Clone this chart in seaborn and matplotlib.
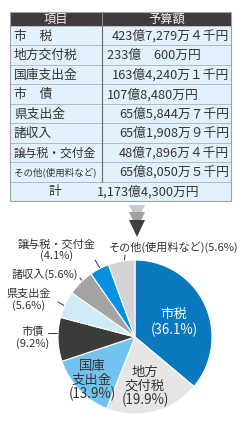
import matplotlib
matplotlib.use("Agg")
import matplotlib.pyplot as plt
from matplotlib.patches import Rectangle, Polygon
import seaborn as sns

# ---------------- data ----------------
header = ["項目", "予算額"]
items = ["市　税", "地方交付税", "国庫支出金", "市　債", "県支出金", "諸収入", "譲与税・交付金", "その他(使用料など)"]
amounts = ["423億7,279万４千円", "233億　600万円", "163億4,240万１千円", "107億8,480万円",
           "65億5,844万７千円", "65億1,908万９千円", "48億7,896万４千円", "65億8,050万５千円"]
total_label = "計"
total_amount = "1,173億4,300万円"

pie_labels = ["市税", "地方\n交付税", "国庫\n支出金", "市債", "県支出金", "諸収入", "譲与税・交付金", "その他(使用料など)"]
pie_shares = [36.1, 19.9, 13.9, 9.2, 5.6, 5.6, 4.1, 5.6]
pie_colors = ["#0a78bf", "#e6e6e6", "#72c3ee", "#3b3b3b", "#cfeaf9", "#a3a3a3", "#0a90e0", "#d4d4d4"]

# ---------------- setup ----------------
sns.set_style("white")
plt.rcParams["font.family"] = ["Noto Sans CJK JP", "DejaVu Sans"]
W, H = 251, 425
fig = plt.figure(figsize=(W / 100, H / 100), dpi=100)
fig.patch.set_facecolor("white")

ov = fig.add_axes([0, 0, 1, 1])
ov.set_xlim(0, W)
ov.set_ylim(H, 0)
ov.axis("off")

# ---------------- table ----------------
x0, x1, xd = 10, 231, 102
y_top, y_head = 12, 26
n_rows = len(items) + 1
rh = (201 - y_head) / n_rows
txt = "#333333"

ov.add_patch(Rectangle((x0, y_top), x1 - x0, y_head - y_top, facecolor="#403c3b", edgecolor="none"))
ov.text((x0 + xd) / 2, (y_top + y_head) / 2 + 0.5, header[0], color="#f2f2f2", fontsize=8.8, ha="center", va="center")
ov.text((xd + x1) / 2, (y_top + y_head) / 2 + 0.5, header[1], color="#f2f2f2", fontsize=8.8, ha="center", va="center")
ov.plot([xd, xd], [y_top, y_head], color="#8a8a8a", lw=0.8)

for i, (name, amt) in enumerate(zip(items, amounts)):
    ya = y_head + i * rh
    ov.add_patch(Rectangle((x0, ya), x1 - x0, rh, facecolor="#e1f2fc", edgecolor="#a8b6c0", lw=0.6))
    yc = ya + rh / 2 + 0.5
    if len(name) <= 5:
        fs = 9.2
    elif len(name) <= 7:
        fs = 8.5
    else:
        fs = 6.8
    ov.text(x0 + 4, yc, name, color=txt, fontsize=fs, ha="left", va="center")
    if amt.endswith("千円"):
        ov.text(x1 - 2, yc, amt, color=txt, fontsize=9.2, ha="right", va="center")
    else:
        ov.text(xd + 5, yc, amt, color=txt, fontsize=9.2, ha="left", va="center")
    ov.plot([xd, xd], [ya, ya + rh], color="#6a6a6a", lw=0.8)

ya = y_head + len(items) * rh
ov.add_patch(Rectangle((x0, ya), x1 - x0, rh, facecolor="#e1f2fc", edgecolor="#a8b6c0", lw=0.6))
ov.text(55, ya + rh / 2 + 0.5, total_label, color=txt, fontsize=9.2, ha="center", va="center")
ov.text(97, ya + rh / 2 + 0.5, total_amount, color=txt, fontsize=9.2, ha="left", va="center")
ov.add_patch(Rectangle((x0, y_top), x1 - x0, 201 - y_top, facecolor="none", edgecolor="#9aa4aa", lw=0.8))

# ---------------- arrow ----------------
ax_c = 137
for top, col in zip([205, 212, 220], ["#c9c9c9", "#a0a0a0", "#3f3f3f"]):
    ov.add_patch(Polygon([(ax_c - 8, top), (ax_c + 8, top), (ax_c, top + 17)], closed=True,
                         facecolor=col, edgecolor="none"))

# ---------------- pie ----------------
cx, cy, r = 135, 337, 77
pa = fig.add_axes([(cx - r) / W, (H - cy - r) / H, 2 * r / W, 2 * r / H])
pa.pie(pie_shares, colors=pie_colors, startangle=90, counterclock=False,
       wedgeprops=dict(edgecolor="white", linewidth=0.8), radius=1)
pa.set_xlim(-1, 1)
pa.set_ylim(-1, 1)
pa.set_aspect("auto")
pa.axis("off")

def P(px, py):
    return ((px - cx) / r, (cy - py) / r)

def pct(v):
    return f"({v:.1f}%)"

fs_in = 9.6
fs_out = 8
pa.text(*P(174, 322), f"{pie_labels[0]}\n{pct(pie_shares[0])}", color="white", fontsize=fs_in,
        ha="center", va="center", linespacing=1.15)
pa.text(*P(145, 386), f"{pie_labels[1]}\n{pct(pie_shares[1])}", color=txt, fontsize=fs_in,
        ha="center", va="center", linespacing=1.0)
pa.text(*P(92, 380), f"{pie_labels[2]}\n{pct(pie_shares[2])}", color=txt, fontsize=fs_in,
        ha="center", va="center", linespacing=1.0)

# outside labels (overlay pixel coordinates)
ov.text(33, 338, f"{pie_labels[3]}\n{pct(pie_shares[3])}", color=txt, fontsize=fs_out,
        ha="center", va="center", linespacing=1.1)
ov.plot([48, 67], [333, 333], color="#333333", lw=0.7)

ov.text(29, 300, f"{pie_labels[4]}\n{pct(pie_shares[4])}", color=txt, fontsize=fs_out,
        ha="center", va="center", linespacing=1.1)
ov.plot([58, 77], [302, 313], color="#333333", lw=0.7)

ov.text(45, 274, f"{pie_labels[5]}{pct(pie_shares[5])}", color=txt, fontsize=fs_out,
        ha="center", va="center")
ov.plot([80, 91], [278, 292], color="#333333", lw=0.7)

ov.text(57, 250, f"{pie_labels[6]}\n{pct(pie_shares[6])}", color=txt, fontsize=fs_out,
        ha="center", va="center", linespacing=1.1)
ov.plot([95, 103], [260, 273], color="#333333", lw=0.7)

ov.text(174, 247, f"{pie_labels[7]}{pct(pie_shares[7])}", color=txt, fontsize=fs_out,
        ha="center", va="center")
ov.plot([125, 123], [255, 273], color="#333333", lw=0.7)

fig.savefig("out.png", dpi=100, facecolor="white")
